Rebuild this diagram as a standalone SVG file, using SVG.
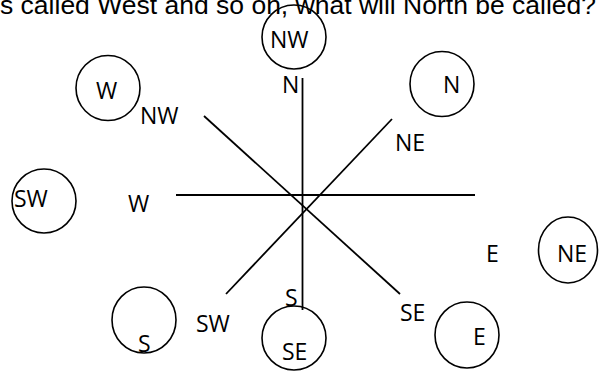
<svg xmlns="http://www.w3.org/2000/svg" width="605" height="371" viewBox="0 0 605 371">
<style>
.c{fill:none;stroke:#000;stroke-width:1.6}
.t{font-family:"Open Sans","Noto Sans",sans-serif;font-size:23px;fill:#000}
.l{stroke:#000;stroke-width:1.8;fill:none}
.h{font-family:"Liberation Sans",Arial,sans-serif;font-size:26.5px;fill:#000}
</style>
<rect width="605" height="371" fill="#fff"/>
<text class="h" x="0" y="14">s called West and so on, what will North be called?</text>
<g id="connectors">
<line class="l" x1="302.5" y1="78" x2="302.5" y2="310"/>
<line class="l" x1="176" y1="195" x2="475" y2="195"/>
<line class="l" x1="204" y1="116" x2="400" y2="294"/>
<line class="l" x1="392" y1="119" x2="226" y2="294"/>
</g>
<g id="node-nw"><ellipse class="c" cx="294" cy="37" rx="32" ry="32"/><text class="t" x="270" y="48">NW</text></g>
<g id="node-w"><ellipse class="c" cx="108" cy="88" rx="32" ry="32.5"/><text class="t" x="96" y="99">W</text></g>
<g id="node-n"><ellipse class="c" cx="442" cy="84" rx="32" ry="32.5"/><text class="t" x="443" y="93">N</text></g>
<g id="node-sw"><ellipse class="c" cx="44" cy="201" rx="32" ry="32"/><text class="t" x="14" y="207">SW</text></g>
<g id="node-ne"><ellipse class="c" cx="568" cy="250" rx="29.5" ry="33"/><text class="t" x="557" y="262">NE</text></g>
<g id="node-s"><ellipse class="c" cx="144" cy="320" rx="32" ry="33"/><text class="t" x="138" y="352">S</text></g>
<g id="node-se"><ellipse class="c" cx="294" cy="338" rx="32" ry="32"/><text class="t" x="282" y="360">SE</text></g>
<g id="node-e"><ellipse class="c" cx="467" cy="335" rx="32" ry="33"/><text class="t" x="473" y="345">E</text></g>
<g id="labels">
<text class="t" x="282" y="93">N</text>
<text class="t" x="140" y="124">NW</text>
<text class="t" x="395" y="151">NE</text>
<text class="t" x="128" y="212">W</text>
<text class="t" x="486" y="262">E</text>
<text class="t" x="196" y="332">SW</text>
<text class="t" x="285" y="306">S</text>
<text class="t" x="400" y="321">SE</text>
</g>
</svg>
